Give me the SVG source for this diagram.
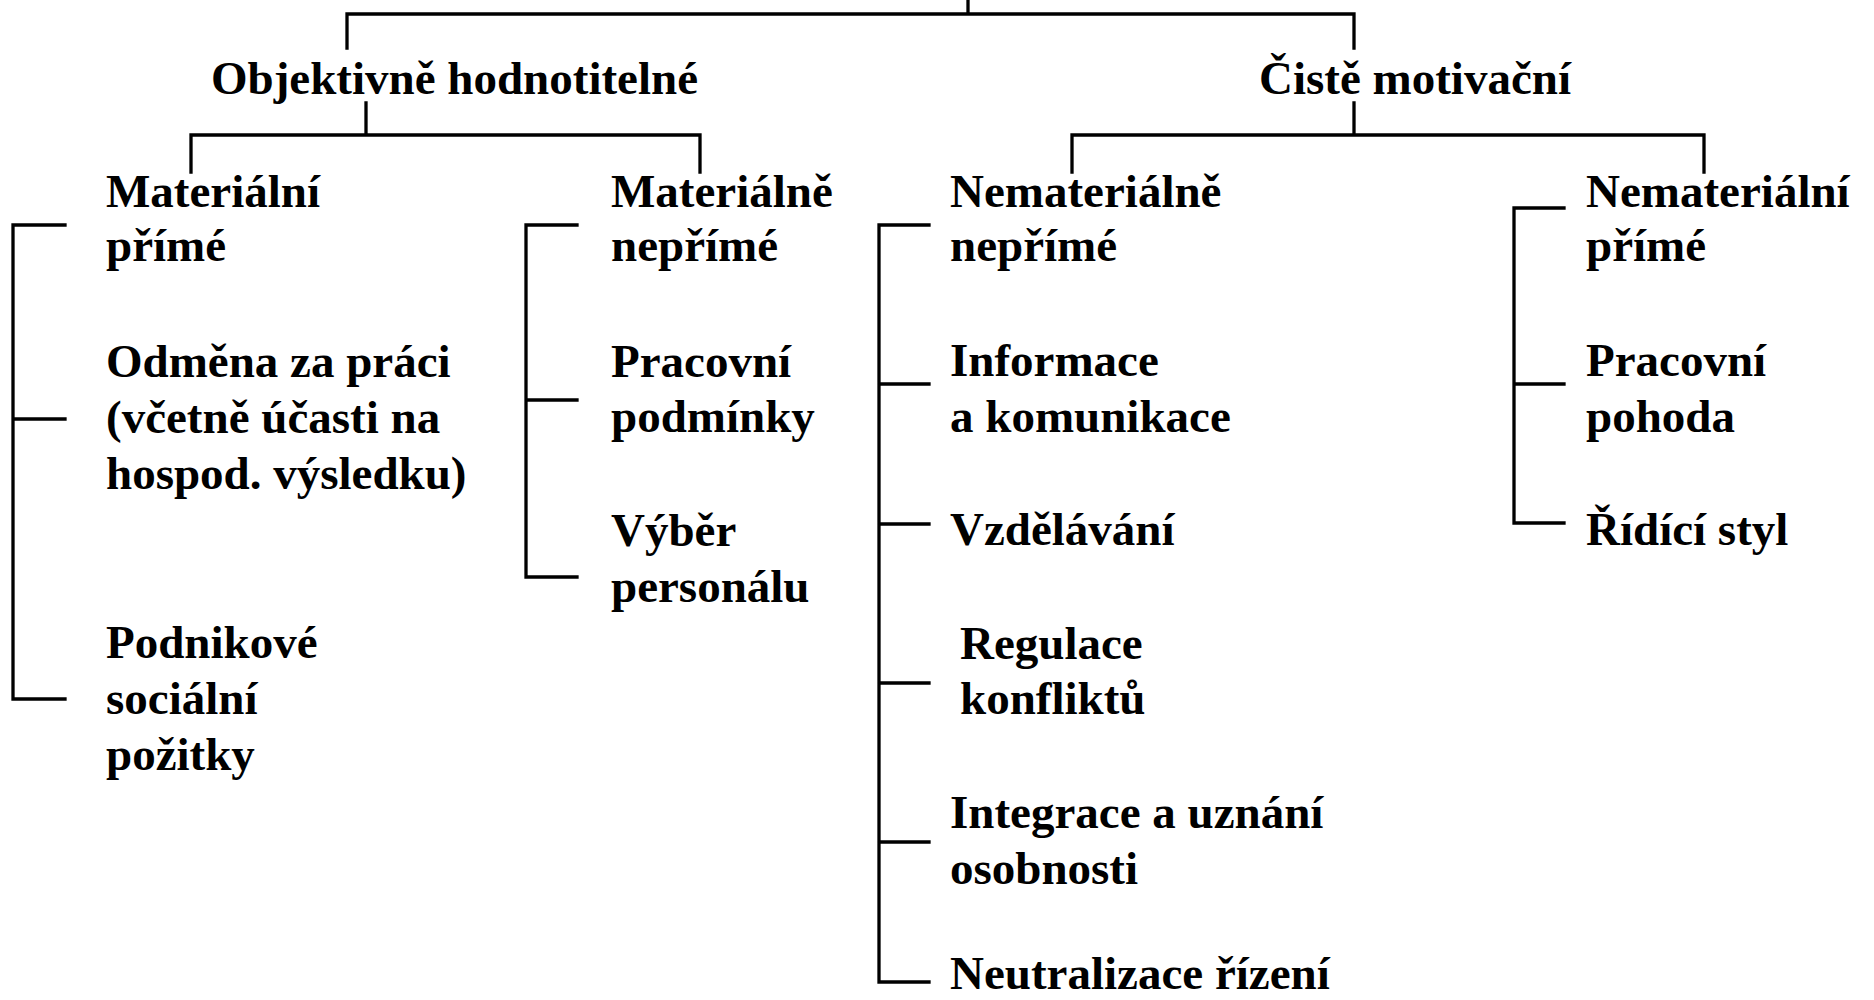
<svg xmlns="http://www.w3.org/2000/svg" width="1874" height="1000" viewBox="0 0 1874 1000">
<style>
text{font-family:"Liberation Serif","Times New Roman",serif;font-weight:bold;font-size:47px;fill:#000}
.c path{fill:none;stroke:#000;stroke-width:3.3;stroke-linecap:square;stroke-linejoin:miter}
</style>
<rect width="1874" height="1000" fill="#fff"/>
<g class="c" id="connectors">
<path d="M968,0 V14 M347,48 V14 H1354 V48"/>
<path d="M366,103 V135 M191,172 V135 H700 V172"/>
<path d="M1354,103 V135 M1072,172 V135 H1704 V172"/>
<path d="M65,225 H13 V699 H65 M13,419 H65"/>
<path d="M577,225 H526 V577 H577 M526,400 H577"/>
<path d="M929,225 H879 V982 H929 M879,384 H929 M879,524 H929 M879,683 H929 M879,842 H929"/>
<path d="M1564,208 H1514 V523 H1564 M1514,384 H1564"/>
</g>
<g id="n-objektivne"><text x="211" y="94">Objektivně hodnotitelné</text></g>
<g id="n-ciste"><text x="1259" y="94">Čistě motivační</text></g>
<g id="n-mat-prime"><text x="106" y="207">Materiální</text><text x="106" y="261">přímé</text></g>
<g id="n-mat-neprime"><text x="611" y="207">Materiálně</text><text x="611" y="261">nepřímé</text></g>
<g id="n-nemat-neprime"><text x="950" y="207">Nemateriálně</text><text x="950" y="261">nepřímé</text></g>
<g id="n-nemat-prime"><text x="1586" y="207">Nemateriální</text><text x="1586" y="261">přímé</text></g>
<g id="n-odmena"><text x="106" y="377">Odměna za práci</text><text x="106" y="433">(včetně účasti na</text><text x="106" y="489">hospod. výsledku)</text></g>
<g id="n-podnikove"><text x="106" y="658">Podnikové</text><text x="106" y="714">sociální</text><text x="106" y="770">požitky</text></g>
<g id="n-pracovni-podminky"><text x="611" y="377">Pracovní</text><text x="611" y="432">podmínky</text></g>
<g id="n-vyber"><text x="611" y="546">Výběr</text><text x="611" y="602">personálu</text></g>
<g id="n-informace"><text x="950" y="376">Informace</text><text x="950" y="432">a komunikace</text></g>
<g id="n-vzdelavani"><text x="950" y="545">Vzdělávání</text></g>
<g id="n-regulace"><text x="960" y="659">Regulace</text><text x="960" y="714">konfliktů</text></g>
<g id="n-integrace"><text x="950" y="828">Integrace a uznání</text><text x="950" y="884">osobnosti</text></g>
<g id="n-neutralizace"><text x="950" y="989">Neutralizace řízení</text></g>
<g id="n-pracovni-pohoda"><text x="1586" y="376">Pracovní</text><text x="1586" y="432">pohoda</text></g>
<g id="n-ridici"><text x="1586" y="545">Řídící styl</text></g>
</svg>
